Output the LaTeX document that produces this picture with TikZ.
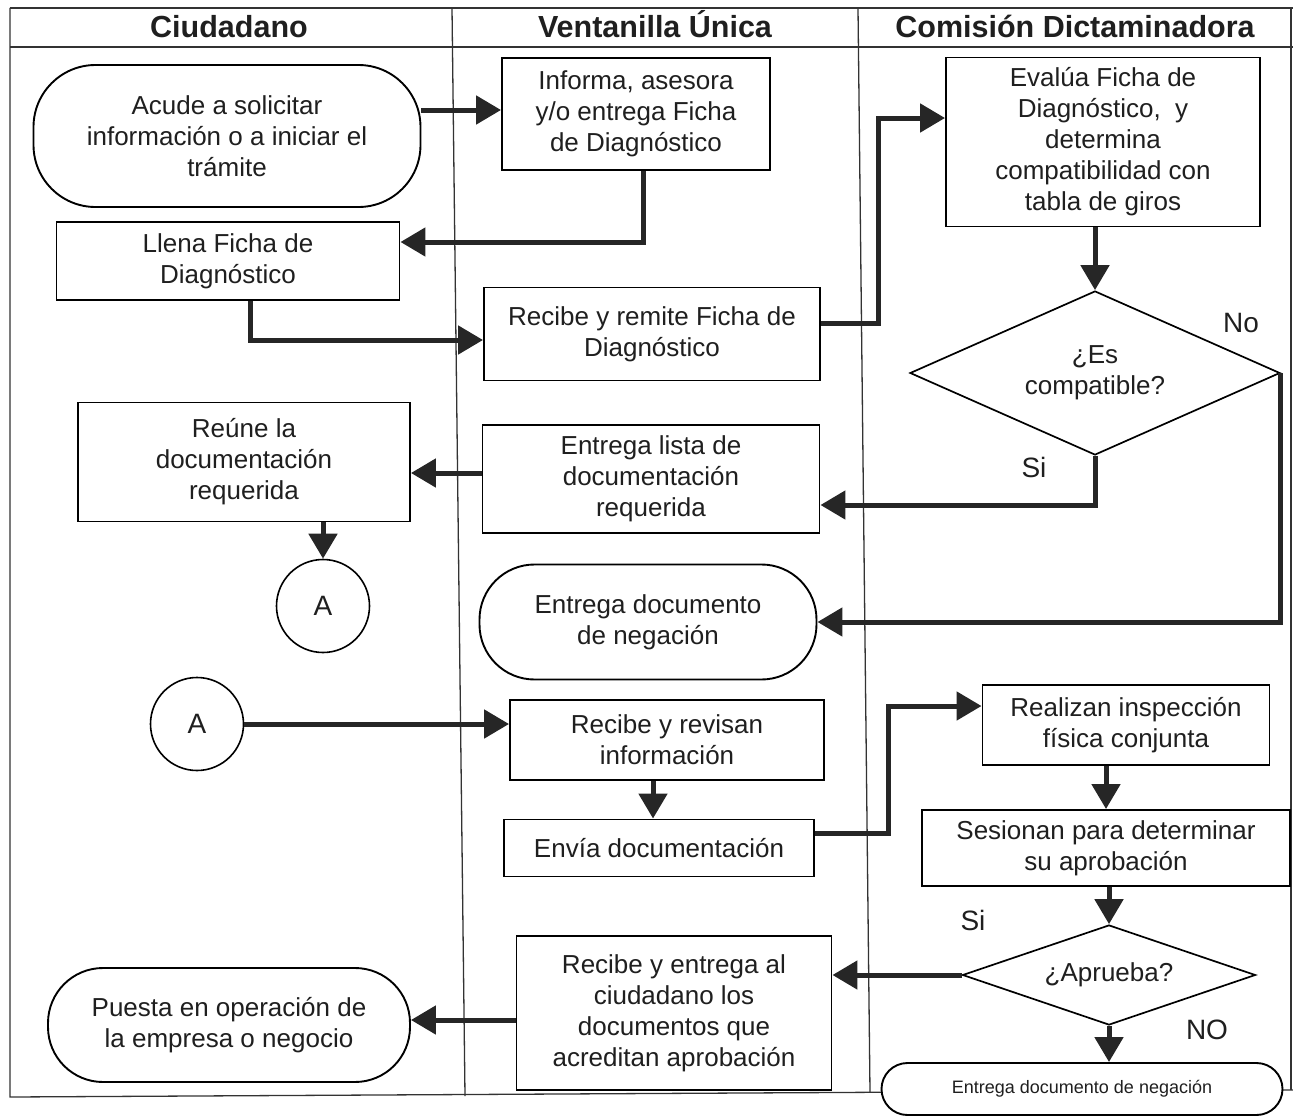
\documentclass[tikz,border=0pt]{standalone}
\usepackage{fontspec}
\setmainfont{Liberation Sans}
\usetikzlibrary{arrows.meta,shapes.geometric,calc}
\begin{document}
\begin{tikzpicture}[x=1pt,y=-1pt,
  every node/.style={font=\fontsize{26}{31}\selectfont, align=center, inner sep=0pt, text=black!88},
  box/.style={draw, fill=white, line width=1.9pt},
  term/.style={box, rounded corners=58pt},
  dec/.style={draw, fill=white, line width=1.7pt, diamond},
  conn/.style={draw, fill=white, circle, line width=1.6pt, minimum size=93pt, font=\fontsize{28}{30}\selectfont},
  lane/.style={line width=1.3pt, black!80},
  head/.style={font=\fontsize{30.5}{34}\selectfont\bfseries, anchor=base},
  lbl/.style={font=\fontsize{28}{30}\selectfont},
  arr/.style={line width=5pt, black!85, -{Triangle[length=25pt,width=28pt]}}]

\useasboundingbox (0,0) rectangle (1293,1116);
\clip (0,0) rectangle (1293,1116);

% swimlane frame
\draw[lane] (10,8) -- (1293,8);
\draw[lane] (10,47) -- (1293,47);
\draw[lane] (10,8) -- (10,1097) -- (1293,1090);
\draw[lane] (1291,8) -- (1291,1090);
\draw[lane] (452,8) -- (465,1096);
\draw[lane] (858,8) -- (870,1092);

% lane headings
\node[head] (h1) at (229,38) {Ciudadano};
\node[head] (h2) at (655,38) {Ventanilla Única};
\node[head] (h3) at (1075,38) {Comisión Dictaminadora};

% steps
\node[term, minimum width=387pt, minimum height=142pt, rounded corners=62pt] (acude) at (227,136)
  {Acude a solicitar\\información o a iniciar el\\trámite};
\node[box, minimum width=268pt, minimum height=112pt] (info) at (636,114)
  {Informa, asesora\\y/o entrega Ficha\\de Diagnóstico};
\node[box, minimum width=343pt, minimum height=78pt] (llena) at (228,261)
  {Llena Ficha de\\Diagnóstico};
\node[box, minimum width=336pt, minimum height=93pt] (recibe) at (652,334)
  {Recibe y remite Ficha de\\Diagnóstico};
\node[box, minimum width=314pt, minimum height=169pt] (evalua) at (1103,142)
  {Evalúa Ficha de\\Diagnóstico,\ \ y\\determina\\compatibilidad con\\tabla de giros};
\node[dec, aspect=2.26, minimum width=370pt, minimum height=164pt] (comp) at (1095,373)
  {¿Es\\compatible?};
\node[box, minimum width=332pt, minimum height=119pt] (reune) at (244,462)
  {Reúne la\\documentación\\requerida};
\node[box, minimum width=337pt, minimum height=108pt] (lista) at (651,479)
  {Entrega lista de\\documentación\\requerida};
\node[conn] (ca) at (323,606) {A};
\node[term, minimum width=337pt, minimum height=115pt, rounded corners=55pt] (neg) at (648,622)
  {Entrega documento\\de negación};
\node[conn] (cb) at (197,724) {A};
\node[box, minimum width=314pt, minimum height=80pt] (revisan) at (667,740)
  {Recibe y revisan\\información};
\node[box, minimum width=310pt, minimum height=57pt] (envia) at (659,848)
  {Envía documentación};
\node[box, minimum width=287pt, minimum height=80pt] (realizan) at (1126,725)
  {Realizan inspección\\física conjunta};
\node[box, minimum width=368pt, minimum height=76pt] (sesionan) at (1106,848)
  {Sesionan para determinar\\su aprobación};
\node[dec, aspect=2.93, minimum width=293pt, minimum height=100pt] (aprueba) at (1109,975)
  {¿Aprueba?};
\node[box, minimum width=315pt, minimum height=154pt] (acredita) at (674,1013)
  {Recibe y entrega al\\ciudadano los\\documentos que\\acreditan aprobación};
\node[term, minimum width=362pt, minimum height=114pt, rounded corners=55pt] (puesta) at (229,1025)
  {Puesta en operación de\\la empresa o negocio};
\node[term, minimum width=401pt, minimum height=52pt, rounded corners=26pt,
      font=\fontsize{18}{20}\selectfont] (negfin) at (1082,1089)
  {Entrega documento de negación};

% branch labels
\node[lbl] (no1) at (1241,323) {No};
\node[lbl] (si1) at (1034,467) {Si};
\node[lbl] (si2) at (973,920) {Si};
\node[lbl] (no2) at (1207,1030) {NO};

% flow
\draw[arr] (acude.east |- 0,110) -- (info.west |- 0,110);
\draw[arr] ([xshift=7pt]info.south) |- ([yshift=19pt]llena.east);
\draw[arr] ([xshift=22pt]llena.south) |- ([yshift=-6pt]recibe.west);
\draw[arr] ([yshift=11pt]recibe.east) -- ++(58,0) |- ([yshift=24pt]evalua.west);
\draw[arr] (comp.north |- evalua.south) -- (comp.north);
\draw[arr] (comp.south) |- ([yshift=-26pt]lista.east);
\draw[arr] (comp.east) |- (neg.east);
\draw[arr] ([yshift=6pt]lista.west) -- ([yshift=6pt]lista.west -| reune.east);
\draw[arr] (ca.north |- reune.south) -- (ca.north);
\draw[arr] (cb.east) -- (cb.east -| revisan.west);
\draw[arr] ([xshift=-6pt]envia.north |- revisan.south) -- ([xshift=-6pt]envia.north);
\draw[arr] ([yshift=15pt]envia.east) -- ++(74,0) |- ([yshift=19pt]realizan.west);
\draw[arr] (sesionan.north |- realizan.south) -- (sesionan.north);
\draw[arr] (aprueba.north |- sesionan.south) -- (aprueba.north);
\draw[arr] (aprueba.west) -- (aprueba.west -| acredita.east);
\draw[arr] (aprueba.south) -- (aprueba.south |- negfin.north);
\draw[arr] ([yshift=-7pt]acredita.west) -- ([yshift=-7pt]acredita.west -| puesta.east);

\end{tikzpicture}
\end{document}
